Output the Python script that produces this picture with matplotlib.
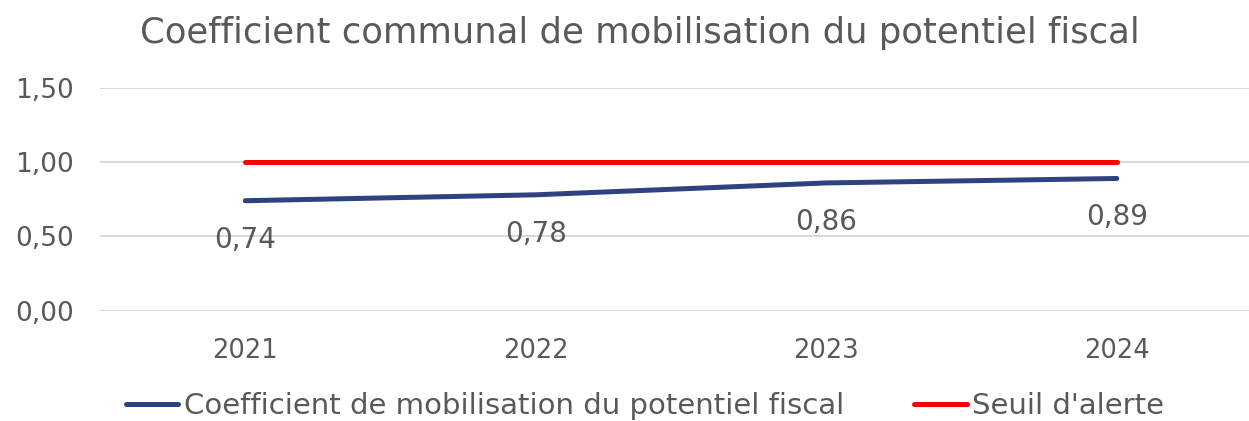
import matplotlib
matplotlib.use('Agg')
import matplotlib.pyplot as plt

years = ['2021', '2022', '2023', '2024']
coef = [0.74, 0.78, 0.86, 0.89]
seuil = [1.00, 1.00, 1.00, 1.00]
yticks = [0.0, 0.5, 1.0, 1.5]

grey = '#595959'
blue = '#2F4280'
red = '#FF0000'

plt.rcParams['font.family'] = ['DejaVu Sans']

fig = plt.figure(figsize=(12.49, 4.21), dpi=100)
# axes spans past the right edge, as in the original crop
ax = fig.add_axes([100 / 1249, 1 - 310.5 / 421, 1162 / 1249, 222.5 / 421])

x = list(range(len(years)))
ax.plot(x, coef, color=blue, lw=3.6, solid_capstyle='round',
        label='Coefficient de mobilisation du potentiel fiscal')
ax.plot(x, seuil, color=red, lw=3.6, solid_capstyle='round',
        label="Seuil d'alerte")

for xi, v in zip(x, coef):
    ax.annotate(f'{v:.2f}'.replace('.', ','), (xi, v), xytext=(0, -28),
                textcoords='offset points', ha='center', va='center',
                fontsize=20, color=grey)

ax.set_xlim(-0.5, 3.5)
ax.set_ylim(0, 1.5)
ax.set_xticks(x)
ax.set_xticklabels(years, fontsize=18.5)
ax.set_yticks(yticks)
ax.set_yticklabels([f'{t:.2f}'.replace('.', ',') for t in yticks], fontsize=19)
ax.tick_params(length=0, labelcolor=grey)
ax.tick_params(axis='x', pad=20)
ax.tick_params(axis='y', pad=19)
ax.grid(axis='y', color='#D9D9D9', lw=1.5)
ax.set_axisbelow(True)
for s in ax.spines.values():
    s.set_visible(False)

fig.text(640 / 1249, 1 - 33 / 421, 'Coefficient communal de mobilisation du potentiel fiscal',
         ha='center', va='center', fontsize=25.5, color=grey)

fig.legend(loc='center', bbox_to_anchor=(645 / 1249, 1 - 406 / 421), ncol=2,
           frameon=False, fontsize=21, labelcolor=grey, handlelength=1.8,
           handletextpad=0.2, columnspacing=2.4)

fig.savefig('out.png', dpi=100)
